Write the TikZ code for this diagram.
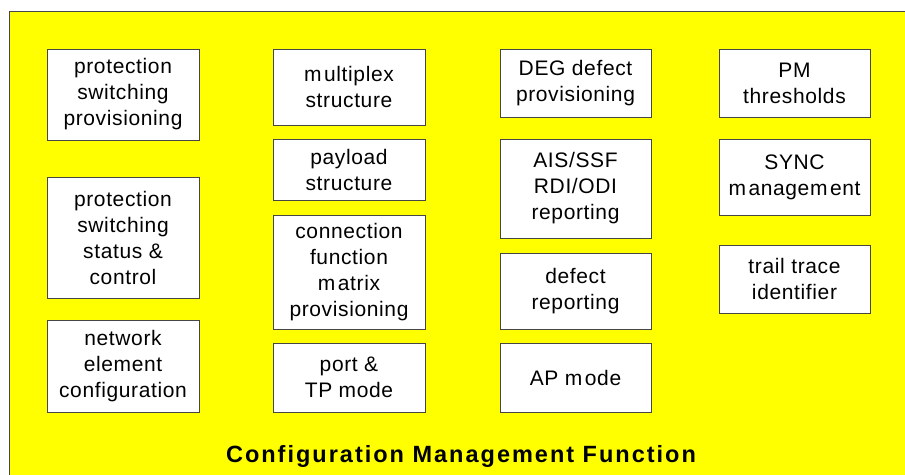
\documentclass[tikz,border=0pt]{standalone}
\usepackage{fontspec}
\setmainfont{Liberation Sans}
\newfontfamily\boxfamily[LetterSpace=3]{Liberation Sans}
\newfontfamily\titlefamily[LetterSpace=8.5]{Liberation Sans}
\newcommand\mgap{\kern2.5pt\relax}
\definecolor{bgyellow}{RGB}{255,255,0}
\definecolor{edgegray}{RGB}{70,70,70}
\tikzset{
  fbox/.style={draw=edgegray, line width=1pt, fill=white, align=center,
    inner sep=0pt, font=\boxfamily\fontsize{21}{26}\selectfont},
  titletext/.style={font=\titlefamily\bfseries\fontsize{23.5}{28}\selectfont, inner sep=0pt}
}
\begin{document}
\begin{tikzpicture}[x=1pt,y=-1pt]
\useasboundingbox (0,0) rectangle (905,474);
\fill[white] (0,0) rectangle (905,474);
\begin{scope}
\clip (0,0) rectangle (905,474);
\draw[draw=edgegray, line width=1pt, fill=bgyellow] (9,11) rectangle (920,490);
\end{scope}
% column 1
\node[fbox, minimum width=152pt, minimum height=91pt] (pspro) at (123,94.5) {protection\\switching\\provisioning};
\node[fbox, minimum width=152pt, minimum height=121pt] (psstat) at (123,237.5) {protection\\switching\\status \&\\control};
\node[fbox, minimum width=152pt, minimum height=92pt] (neconf) at (123,366) {network\\element\\configuration};
% column 2
\node[fbox, minimum width=152pt, minimum height=76pt] (mux) at (349,87) {m\mgap ultiplex\\structure};
\node[fbox, minimum width=152pt, minimum height=61pt] (payload) at (349,169.5) {payload\\structure};
\node[fbox, minimum width=152pt, minimum height=114pt] (cfm) at (349,272) {connection\\function\\m\mgap atrix\\provisioning};
\node[fbox, minimum width=152pt, minimum height=69pt] (port) at (349,377.5) {port \&\\TP mode};
% column 3
\node[fbox, minimum width=151pt, minimum height=68pt] (deg) at (575.5,83) {DEG defect\\provisioning};
\node[fbox, minimum width=151pt, minimum height=99pt] (ais) at (575.5,188.5) {AIS/SSF\\RDI/ODI\\reporting};
\node[fbox, minimum width=151pt, minimum height=76pt] (defrep) at (575.5,291) {defect\\reporting};
\node[fbox, minimum width=151pt, minimum height=69pt] (apmode) at (575.5,377.5) {AP m\mgap ode};
% column 4
\node[fbox, minimum width=151pt, minimum height=68pt] (pm) at (794.5,83) {PM\\thresholds};
\node[fbox, minimum width=151pt, minimum height=76pt] (sync) at (794.5,177) {SYNC\\m\mgap anagem\mgap ent};
\node[fbox, minimum width=151pt, minimum height=68pt] (tti) at (794.5,279) {trail trace\\identifier};
% title
\node[titletext, anchor=base] (title) at (461,462) {Configuration Management Function};
\end{tikzpicture}
\end{document}
